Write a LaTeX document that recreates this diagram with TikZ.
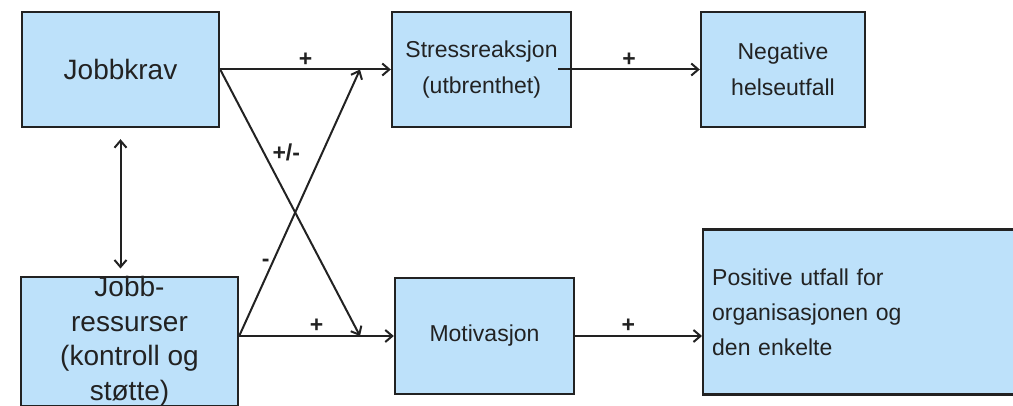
\documentclass[tikz,border=0pt]{standalone}
\usepackage{fontspec}
\setmainfont{Liberation Sans}
\usetikzlibrary{arrows.meta, positioning, calc}
\definecolor{boxblue}{RGB}{189,225,250}
\definecolor{ink}{RGB}{34,34,34}
\tikzset{
  % --- Bokser -----------------------------------------------
  jdbox/.style={draw=ink, fill=boxblue, line width=2.4pt, align=center,
    text=ink, font=\fontsize{23}{36}\selectfont, inner sep=0pt},
  jdboxb/.style={jdbox, font=\fontsize{28}{34.5}\selectfont},
  % --- Piler ------------------------------------------------
  arr/.style={-{Straight Barb[length=7pt,width=12pt]}, draw=ink, line width=2pt},
  arrd/.style={{Straight Barb[length=7pt,width=12pt]}-{Straight Barb[length=7pt,width=12pt]},
    draw=ink, line width=2pt},
  lbl/.style={text=ink, font=\fontsize{23}{26}\selectfont\bfseries, inner sep=2pt}
}
\begin{document}
\begin{tikzpicture}[x=1pt, y=-1pt]
  \useasboundingbox (0,0) rectangle (1013,406);
  \clip (0,0) rectangle (1013,406);

  % --- Bokser ---------------------------------------------------------
  \node[jdboxb, minimum width=197pt, minimum height=115pt] (krav) at (120.5,69.5) {Jobbkrav};
  \node[jdbox, minimum width=179pt, minimum height=115pt] (stress) at (481.5,69.5) {Stressreaksjon\\(utbrenthet)};
  \node[jdbox, minimum width=164pt, minimum height=115pt] (neg) at (783,69.5) {Negative\\helseutfall};
  \node[jdboxb, minimum width=217pt, minimum height=125pt] (res) at (129.5,341.5) {Jobb-\\ressurser\\(kontroll og\\støtte)};
  \node[jdbox, minimum width=179pt, minimum height=116pt] (mot) at (484.5,336) {Motivasjon};
  \node[jdbox, minimum height=165pt, text width=312pt, align=left, inner xsep=9pt,
    anchor=west, font=\fontsize{23}{35}\selectfont] (pos) at (702,312) {Positive utfall for\\organisasjonen og\\den enkelte};

  % --- Piler ----------------------------------------------------------
  \coordinate (sjoin) at (360,69.5);
  \coordinate (mjoin) at (360,336);

  \draw[arr] (krav.east) -- node[lbl, above]{+} (stress.west);
  \draw[arr] ([xshift=-14pt]stress.east) -- node[lbl, above]{+} (neg.west);
  \draw[arr] (krav.east) -- node[lbl, pos=0.31, right=6pt]{+/-} (mjoin);
  \draw[arr] (res.east |- mot.west) -- node[lbl, pos=0.275, left]{-} (sjoin);
  \draw[arr] (res.east |- mot.west) -- node[lbl, above]{+} (mot.west);
  \draw[arr] (mot.east) -- node[lbl, above, pos=0.42]{+} (mot.east -| pos.west);
  \draw[arrd] ([yshift=-11pt]krav.south) -- ([yshift=7pt]krav.south |- res.north);

\end{tikzpicture}
\end{document}
